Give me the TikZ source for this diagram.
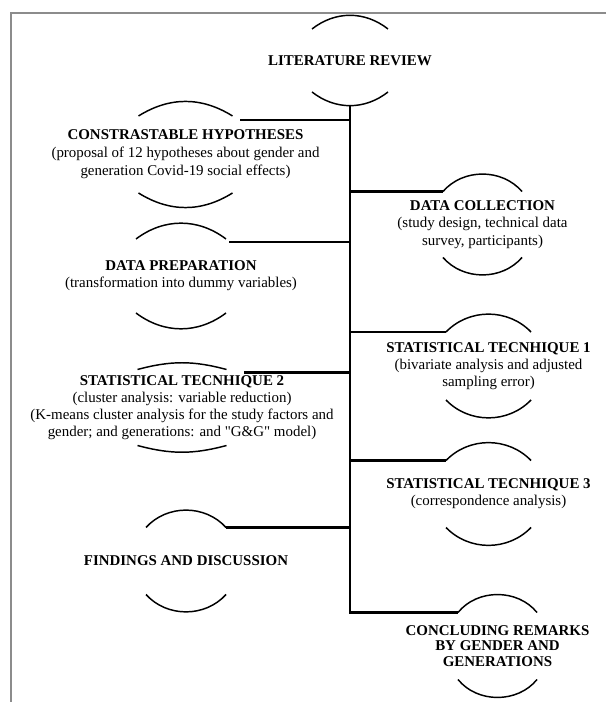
\documentclass[tikz,border=0pt]{standalone}
\usepackage{fontspec}
\setmainfont{Liberation Serif}[Ligatures=TeXOff]

\begin{document}
\begin{tikzpicture}[x=0.75pt,y=0.75pt,
    stage/.style={align=center,inner sep=0pt,font=\fontsize{11.2}{12.9}\selectfont},
    rim/.style={line width=1.1pt},
    link/.style={line width=1.7pt},
    frameline/.style={line width=1.4pt,draw=black!45}]
  \useasboundingbox (0,0) rectangle (606,702);
  \draw[frameline] (606,689.3) -- (10.8,689.3) -- (10.8,0);

  \node[stage] (lit)  at (350,641.5) {\textbf{LITERATURE REVIEW}};
  \node[stage,font=\fontsize{11.2}{13.5}\selectfont] (hyp) at (185.5,547.5)
    {\textbf{CONSTRASTABLE HYPOTHESES}\\(proposal of 12 hypotheses about gender and\\generation Covid-19 social effects)};
  \node[stage] (coll) at (482.5,477.5)
    {\textbf{DATA COLLECTION}\\(study design, technical data\\survey, participants)};
  \node[stage] (prep) at (181,426)
    {\textbf{DATA PREPARATION}\\(transformation into dummy variables)};
  \node[stage] (tec1) at (488.5,336)
    {\textbf{STATISTICAL TECNHIQUE 1}\\(bivariate analysis and adjusted\\sampling error)};
  \node[stage,font=\fontsize{11.2}{12.6}\selectfont] (tec2) at (182,294.5)
    {\textbf{STATISTICAL TECNHIQUE 2}\\(cluster analysis: variable reduction)\\(K-means cluster analysis for the study factors and\\gender; and generations: and "G\&G" model)};
  \node[stage] (tec3) at (488.5,208)
    {\textbf{STATISTICAL TECNHIQUE 3}\\(correspondence analysis)};
  \node[stage] (find) at (186,141) {\textbf{FINDINGS AND DISCUSSION}};
  \node[stage,font=\bfseries\fontsize{11.2}{11.6}\selectfont] (conc) at (497.5,56)
    {CONCLUDING REMARKS\\BY GENDER AND\\GENERATIONS};

  % arcs above and below each stage
  \foreach \n/\w/\h/\b in {lit/38/31.5/38, hyp/47/38.5/32, coll/39.5/33/49,
      prep/45/37/37, tec1/42.5/34/46, tec2/44.5/38/15, tec3/42.5/33.5/46,
      find/40/33.5/48, conc/39.5/33.5/51}{
    \draw[rim] (\n) ++(-\w,\h) coordinate (\n_nw) to[bend left=\b] ++({2*\w},0) coordinate (\n_ne);
    \draw[rim] (\n) ++(-\w,-\h) coordinate (\n_sw) to[bend right=\b] ++({2*\w},0) coordinate (\n_se);
  }

  \coordinate (trunk_top) at (350,597);
  \coordinate (hyp_c)  at (240,582);
  \coordinate (prep_c) at (229,460);
  \coordinate (tec2_c) at (244,329.5);

  \draw[link] (trunk_top) -- (trunk_top |- conc_nw) -- (conc_nw);
  \draw[link] (hyp_c) -- (hyp_c -| trunk_top);
  \draw[link] (coll_nw -| trunk_top) -- (coll_nw);
  \draw[link] (prep_c) -- (prep_c -| trunk_top);
  \draw[link] (tec1_nw -| trunk_top) -- (tec1_nw);
  \draw[link] (tec2_c) -- (tec2_c -| trunk_top);
  \draw[link] (tec3_nw -| trunk_top) -- (tec3_nw);
  \draw[link] (find_ne) -- (find_ne -| trunk_top);
\end{tikzpicture}
\end{document}
